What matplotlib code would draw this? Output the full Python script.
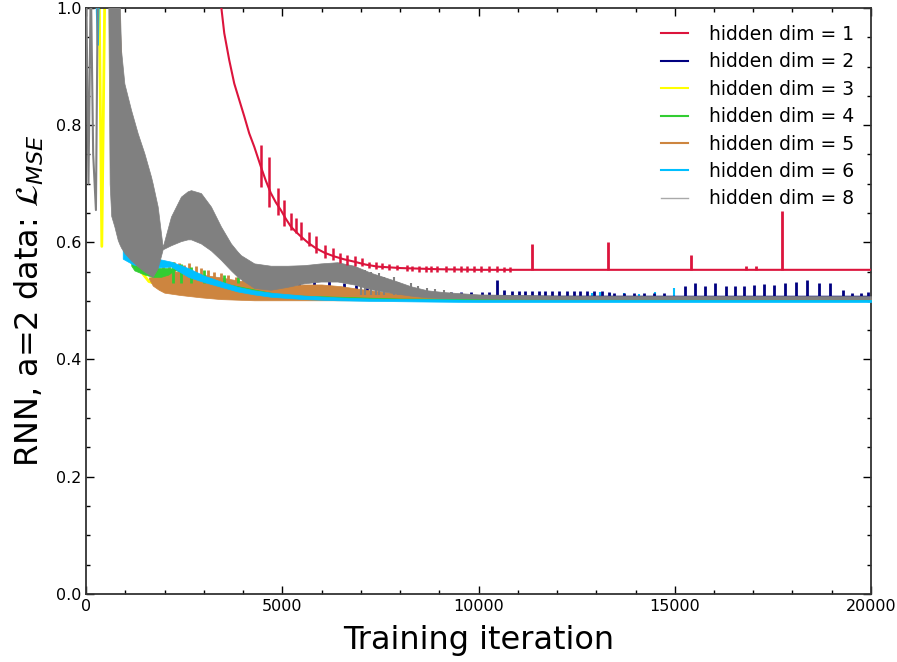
import numpy as np
import matplotlib
matplotlib.use("Agg")
import matplotlib.pyplot as plt
from matplotlib.ticker import MultipleLocator

# ---- hidden dim = 1 (red) ----
red_x = [3380, 3450, 3520, 3647, 3775, 3902, 4030, 4156, 4285, 4453, 4580, 4707, 4835, 4962,
         5090, 5216, 5344, 5471, 5660, 5852, 6080, 6319, 6570, 6827, 7120, 7421, 8015, 9000,
         10000, 20000]
red_y = [1.02, 0.998, 0.957, 0.911, 0.871, 0.843, 0.815, 0.786, 0.763, 0.729, 0.705, 0.684, 0.668,
         0.655, 0.640, 0.627, 0.618, 0.610, 0.599, 0.590, 0.582, 0.576, 0.571, 0.567, 0.562, 0.5585,
         0.556, 0.554, 0.553, 0.553]
red_osc_x = [4453, 4648, 4893, 5046, 5216, 5344, 5488, 5683, 5852, 6081, 6302, 6471,
             6658, 6845, 7040, 7209, 7379, 7549, 7718, 7931, 8185, 8313, 8483, 8651,
             8779, 8949, 9160, 9372, 9542, 9712, 9881, 10051, 10262, 10476, 10644, 10814]
red_osc_lo = [0.695, 0.661, 0.647, 0.627, 0.621, 0.616, 0.604, 0.593, 0.581, 0.573, 0.570, 0.564,
              0.561, 0.560, 0.559, 0.556, 0.555, 0.554, 0.553, 0.552, 0.551, 0.551, 0.550, 0.550,
              0.550, 0.550, 0.550, 0.550, 0.550, 0.550, 0.550, 0.550, 0.550, 0.550, 0.550, 0.550]
red_osc_hi = [0.766, 0.746, 0.692, 0.672, 0.650, 0.641, 0.635, 0.618, 0.610, 0.596, 0.590, 0.581,
              0.578, 0.576, 0.573, 0.567, 0.566, 0.564, 0.563, 0.562, 0.561, 0.560, 0.560, 0.560,
              0.560, 0.560, 0.559, 0.559, 0.559, 0.559, 0.559, 0.559, 0.559, 0.559, 0.558, 0.558]
red_spike_x = [11374, 13300, 15412, 16810, 17066, 17743]
red_spike_top = [0.597, 0.600, 0.578, 0.560, 0.560, 0.654]
red_base = 0.553

# ---- hidden dim = 2 (navy) ----
navy_x = [1500, 2000, 3000, 5000, 7000, 9000, 12000, 20000]
navy_y = [0.56, 0.54, 0.52, 0.515, 0.512, 0.508, 0.507, 0.507]
navy_spike_x = [5428, 5810, 6191, 6573, 6870, 7167, 9288, 9542, 9796, 10093, 10262, 10476,
                10644, 10856, 11026, 11196, 11366, 11535, 11705, 11875, 12044, 12256, 12426,
                12595, 12765, 12934, 13147, 13316, 13443, 13698, 13952, 14206, 14461, 14715,
                15267, 15522, 15776, 16031, 16310, 16539, 16768, 17023, 17277, 17532, 17812,
                18092, 18379, 18684, 18957, 19296, 19525, 19737, 19932]
navy_spike_top = [0.533, 0.536, 0.536, 0.530, 0.527, 0.530, 0.516, 0.516, 0.516, 0.516, 0.516, 0.536,
                  0.518, 0.517, 0.517, 0.517, 0.517, 0.517, 0.517, 0.517, 0.517, 0.517, 0.517,
                  0.517, 0.517, 0.517, 0.517, 0.516, 0.514, 0.514, 0.514, 0.514, 0.514, 0.514,
                  0.526, 0.530, 0.526, 0.530, 0.526, 0.526, 0.526, 0.527, 0.529, 0.527, 0.530,
                  0.533, 0.536, 0.531, 0.530, 0.518, 0.514, 0.514, 0.516]
navy_base = 0.507

# ---- hidden dim = 3 (yellow) ----
yellow_x = [330, 400, 480, 700, 800, 1000, 1400, 1600, 1850, 3000, 6000, 20000]
yellow_y = [1.05, 0.593, 1.05, 1.05, 0.62, 0.60, 0.55, 0.533, 0.528, 0.510, 0.504, 0.502]

# ---- hidden dim = 4 (green) ----
green_x = [1150, 1230, 1484, 1700, 1908, 2100, 2250, 2600, 3500, 5000, 8000, 20000]
green_lo = [0.560, 0.552, 0.545, 0.541, 0.541, 0.545, 0.553, 0.546, 0.528, 0.508, 0.503, 0.501]
green_hi = [0.578, 0.567, 0.562, 0.558, 0.556, 0.556, 0.555, 0.549, 0.530, 0.510, 0.504, 0.502]
green_spike_x = [2205, 2417, 2672, 3010, 3520, 3860]
green_spike_top = [0.567, 0.563, 0.558, 0.552, 0.545, 0.540]

# ---- hidden dim = 5 (orange) ----
orange_line_x = [800, 870, 920]
orange_line_y = [1.05, 0.928, 0.80]
orange_x = [1600, 1700, 1850, 1993, 2400, 2926, 3435, 3860, 4283, 4707, 5132, 5555,
            6000, 6500, 7000, 8000, 9000, 12000, 20000]
orange_lo = [0.538, 0.526, 0.519, 0.514, 0.510, 0.506, 0.503, 0.502, 0.501, 0.501, 0.501, 0.501,
             0.501, 0.501, 0.501, 0.501, 0.501, 0.501, 0.501]
orange_hi = [0.540, 0.541, 0.545, 0.550, 0.550, 0.545, 0.540, 0.535, 0.530, 0.526, 0.526, 0.528,
             0.528, 0.525, 0.520, 0.512, 0.507, 0.505, 0.504]
orange_spike_x = [1950, 2100, 2247, 2374, 2501, 2628, 2799, 2926, 3096, 3265, 3435, 3605,
                  3817, 3987, 4199, 4411, 4623, 4835, 5046]
orange_spike_top = [0.566, 0.566, 0.567, 0.564, 0.561, 0.564, 0.559, 0.556, 0.553, 0.550, 0.547, 0.544,
                    0.541, 0.541, 0.539, 0.536, 0.533, 0.530, 0.527]

# ---- hidden dim = 6 (cyan) ----
cyan_early_x = [250, 300, 330]
cyan_early_y = [1.05, 0.937, 1.05]
cyan_x = [933, 1200, 1600, 2163, 2600, 3010, 3435, 3860, 4283, 4707, 5555, 6400, 7252,
          8500, 10000, 20000]
cyan_lo = [0.572, 0.562, 0.556, 0.5586, 0.541, 0.532, 0.524, 0.516, 0.511, 0.507, 0.503, 0.501, 0.500,
           0.499, 0.498, 0.498]
cyan_hi = [0.590, 0.585, 0.575, 0.567, 0.556, 0.543, 0.533, 0.524, 0.518, 0.514, 0.509, 0.506, 0.504,
           0.503, 0.502, 0.502]
cyan_spike_x = [12900, 13100, 13350, 13700, 14100, 14500, 14970]
cyan_spike_top = [0.514, 0.516, 0.513, 0.514, 0.512, 0.515, 0.522]

# ---- hidden dim = 8 (gray) ----
gray_early_x = [0, 60, 120, 180, 250, 300]
gray_early_y = [1.05, 0.70, 1.05, 0.75, 0.655, 1.05]
gray_x = [560, 600, 640, 720, 806, 848, 890, 975, 1145, 1230, 1315, 1484, 1654, 1697, 1824,
          1951, 2163, 2417, 2587, 2672, 2926, 3181, 3435, 3690, 3860, 3944, 4283, 4707, 5132,
          5555, 5980, 6404, 6827, 7252, 7845, 8270, 8694, 9118, 10000, 12000, 20000]
gray_hi = [1.05, 1.05, 1.05, 1.05, 1.05, 1.03, 0.928, 0.871, 0.826, 0.806, 0.786, 0.752, 0.712,
           0.700, 0.661, 0.592, 0.644, 0.678, 0.687, 0.689, 0.684, 0.661, 0.627, 0.598, 0.584,
           0.578, 0.564, 0.560, 0.560, 0.561, 0.564, 0.566, 0.560, 0.548, 0.535, 0.525, 0.518,
           0.515, 0.511, 0.509, 0.508]
gray_lo = [1.05, 0.70, 0.645, 0.627, 0.604, 0.597, 0.591, 0.582, 0.569, 0.564, 0.559, 0.550, 0.543,
           0.541, 0.556, 0.588, 0.595, 0.602, 0.605, 0.605, 0.598, 0.586, 0.570, 0.552, 0.541,
           0.537, 0.522, 0.519, 0.524, 0.530, 0.533, 0.533, 0.528, 0.520, 0.513, 0.509, 0.506,
           0.505, 0.504, 0.503, 0.503]
gray_spike_x = [6997, 7100, 7252, 7380, 7463, 7600, 7845, 7950, 8270, 8450, 8694, 8900, 9118, 9300]
gray_spike_top = [0.547, 0.552, 0.550, 0.545, 0.547, 0.540, 0.541, 0.532, 0.530, 0.525, 0.522, 0.520,
                  0.519, 0.516]

fig = plt.figure(figsize=(8.97, 6.62), dpi=100)
ax = fig.add_axes([0.096, 0.103, 0.875, 0.885])

# navy
ax.plot(navy_x, navy_y, color="navy", lw=1.5, zorder=2)
ax.vlines(navy_spike_x, navy_base, navy_spike_top, color="navy", lw=2, zorder=2)

# yellow
ax.plot(yellow_x, yellow_y, color="yellow", lw=2, zorder=2.5)

# orange
ax.fill_between(orange_x, orange_lo, orange_hi, facecolor="peru", edgecolor="peru",
                lw=0.5, zorder=3)
ax.vlines(orange_spike_x, 0.52, orange_spike_top, color="peru", lw=2, zorder=3)
ax.plot(orange_line_x, orange_line_y, color="peru", lw=2, zorder=3)

# green (over orange)
ax.fill_between(green_x, green_lo, green_hi, facecolor="limegreen", edgecolor="limegreen",
                lw=0.5, zorder=3.2)
ax.vlines(green_spike_x, 0.53, green_spike_top, color="limegreen", lw=2, zorder=3.2)

# cyan
ax.fill_between(cyan_x, cyan_lo, cyan_hi, facecolor="deepskyblue", edgecolor="deepskyblue",
                lw=0.5, zorder=4)
ax.plot(cyan_early_x, cyan_early_y, color="deepskyblue", lw=1.5, zorder=4)
ax.vlines(cyan_spike_x, 0.505, cyan_spike_top, color="deepskyblue", lw=1.5, zorder=1.9)

# gray
ax.plot(gray_early_x, gray_early_y, color="gray", lw=1.5, zorder=5)
ax.fill_between(gray_x, gray_lo, gray_hi, facecolor="gray", edgecolor="gray", lw=0.5, zorder=5)
ax.vlines(gray_spike_x, 0.51, gray_spike_top, color="gray", lw=1.5, zorder=5)

# red
ax.plot(red_x, red_y, color="crimson", lw=1.5, zorder=6)
ax.vlines(red_osc_x, red_osc_lo, red_osc_hi, color="crimson", lw=1.8, zorder=6)
ax.vlines(red_spike_x, red_base, red_spike_top, color="crimson", lw=2, zorder=6)

# legend handles
h = []
for c, lab, lw in [("crimson", "hidden dim = 1", 1.5), ("navy", "hidden dim = 2", 1.5),
                   ("yellow", "hidden dim = 3", 1.5), ("limegreen", "hidden dim = 4", 1.5),
                   ("peru", "hidden dim = 5", 1.5), ("deepskyblue", "hidden dim = 6", 1.5),
                   ("darkgray", "hidden dim = 8", 1.0)]:
    h.append(plt.Line2D([], [], color=c, lw=lw, label=lab))
ax.legend(handles=h, loc="upper right", frameon=False, fontsize=13.5,
          handlelength=1.45, handletextpad=1.1, labelspacing=0.45,
          borderaxespad=0.5, borderpad=0.4)

ax.set_xlim(0, 20000)
ax.set_ylim(0, 1.0)
ax.xaxis.set_major_locator(MultipleLocator(5000))
ax.xaxis.set_minor_locator(MultipleLocator(1000))
ax.yaxis.set_major_locator(MultipleLocator(0.2))
ax.yaxis.set_minor_locator(MultipleLocator(0.05))
ax.tick_params(which="both", direction="in", top=True, right=True, labelsize=11.5)
ax.tick_params(which="major", length=6, width=1)
ax.tick_params(which="minor", length=3, width=1)
for s in ax.spines.values():
    s.set_linewidth(1.3)
    s.set_color("#333333")

ax.set_xlabel("Training iteration", fontsize=23, labelpad=8)
ax.set_ylabel(r"RNN, a=2 data: $\mathcal{L}_{MSE}$", fontsize=23, labelpad=7)

fig.savefig("out.png", dpi=100)
